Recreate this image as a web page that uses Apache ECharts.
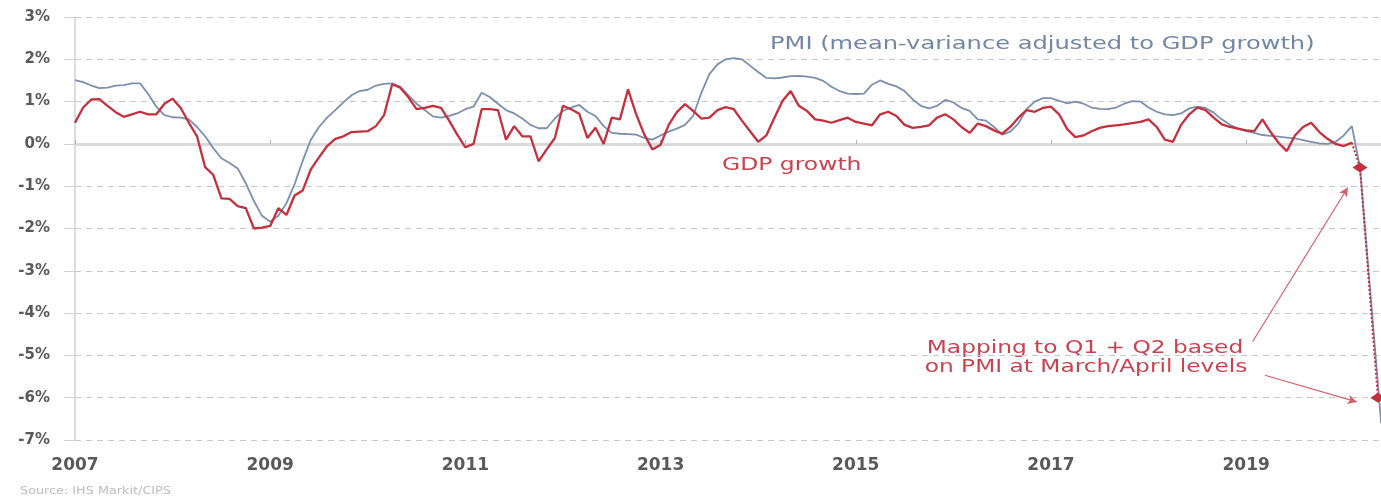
<!DOCTYPE html>
<html><head><meta charset="utf-8">
<script src="https://cdn.jsdelivr.net/npm/echarts/dist/echarts.min.js"></script>
<style>html,body{margin:0;padding:0;background:#fff}#c{width:1381px;height:499px}</style>
</head><body><div id="c"></div>
<script>
// months counted from Jan 2007
const startYear = 2007;
const yearTicks = ['2007','2009','2011','2013','2015','2017','2019'];
// GDP growth (3m/3m %), monthly from Jan 2007
const gdpGrowth = [
 0.50,0.86,1.05,1.06,0.90,0.75,0.64,0.70,0.76,0.70,0.70,0.95,
 1.07,0.85,0.50,0.18,-0.55,-0.73,-1.29,-1.30,-1.47,-1.52,-2.00,-1.98,
 -1.94,-1.52,-1.68,-1.22,-1.10,-0.60,-0.32,-0.05,0.12,0.18,0.28,0.29,
 0.30,0.42,0.68,1.41,1.33,1.10,0.82,0.85,0.90,0.85,0.55,0.22,
 -0.08,0.00,0.82,0.82,0.80,0.10,0.42,0.18,0.18,-0.41,-0.13,0.14,
 0.90,0.82,0.71,0.14,0.38,0.00,0.62,0.58,1.29,0.70,0.22,-0.13,
 -0.02,0.45,0.75,0.94,0.78,0.60,0.62,0.80,0.87,0.82,0.55,0.30,
 0.05,0.20,0.62,1.02,1.25,0.90,0.78,0.58,0.55,0.50,0.56,0.62,
 0.52,0.48,0.44,0.70,0.76,0.66,0.45,0.38,0.40,0.44,0.62,0.70,
 0.58,0.40,0.26,0.48,0.42,0.32,0.24,0.40,0.62,0.80,0.76,0.85,
 0.88,0.70,0.35,0.16,0.20,0.30,0.38,0.42,0.44,0.46,0.49,0.52,
 0.58,0.40,0.10,0.05,0.45,0.70,0.86,0.80,0.62,0.46,0.40,0.36,
 0.32,0.30,0.58,0.28,0.02,-0.17,0.20,0.40,0.50,0.28,0.12,0.00,
 -0.05,0.03
];
// PMI (mean-variance adjusted to GDP growth), monthly from Jan 2007 to Mar 2020
const pmiAdjusted = [
 1.51,1.46,1.38,1.32,1.33,1.38,1.39,1.43,1.43,1.18,0.88,0.68,
 0.63,0.62,0.58,0.40,0.18,-0.10,-0.34,-0.45,-0.58,-0.93,-1.35,-1.70,
 -1.84,-1.70,-1.40,-0.95,-0.40,0.10,0.40,0.62,0.80,0.98,1.15,1.25,
 1.28,1.38,1.42,1.43,1.35,1.15,0.95,0.80,0.65,0.62,0.66,0.72,
 0.82,0.88,1.21,1.11,0.95,0.80,0.72,0.60,0.45,0.37,0.37,0.60,
 0.78,0.86,0.92,0.76,0.66,0.42,0.26,0.24,0.23,0.22,0.14,0.10,
 0.20,0.29,0.36,0.45,0.66,1.20,1.65,1.88,2.00,2.03,2.00,1.85,
 1.70,1.56,1.55,1.57,1.60,1.61,1.59,1.56,1.49,1.35,1.25,1.19,
 1.18,1.19,1.40,1.50,1.42,1.36,1.25,1.05,0.90,0.84,0.90,1.04,
 0.98,0.85,0.78,0.58,0.55,0.40,0.22,0.29,0.48,0.82,1.00,1.08,
 1.08,1.02,0.96,1.00,0.95,0.86,0.83,0.82,0.86,0.95,1.01,1.00,
 0.86,0.76,0.70,0.68,0.72,0.84,0.88,0.85,0.74,0.58,0.45,0.36,
 0.30,0.26,0.21,0.19,0.17,0.15,0.13,0.09,0.05,0.01,0.00,0.05,
 0.20,0.42,-0.56
];
// PMI line running off the right edge (month index, value)
const pmiEnd = [160.6, -6.6];
// Mapping to Q1 + Q2 (month index, value)
const mappingPoints = [[157, 0.03], [158, -0.56], [160.2, -6.0]];

const RED = '#c5303e', BLUE = '#7c8fab', GRAY = '#595959';
const FONT = '"DejaVu Sans", Verdana, sans-serif';
const xMax = 160.58;

const chart = echarts.init(document.getElementById('c'), null, {renderer: 'canvas'});
chart.setOption({
  animation: false,
  backgroundColor: '#fff',
  grid: {left: 75, right: 0, top: 17, bottom: 59, containLabel: false},
  xAxis: [{
    type: 'value', min: 0, max: xMax, interval: 24,
    axisLine: {show: false, onZero: false}, axisTick: {show: false}, splitLine: {show: false},
    axisLabel: {
      showMaxLabel: false, margin: 17,
      formatter: v => yearTicks[Math.round(v / 24)] || '',
      color: GRAY, fontWeight: 'bold', fontSize: 17, fontFamily: FONT
    }
  }, {
    type: 'value', min: 0, max: xMax, interval: 24, position: 'top',
    axisLine: {show: true, onZero: true, lineStyle: {color: '#dadada', width: 3}},
    axisTick: {show: true, length: 4, lineStyle: {color: '#b0b0b0'}},
    axisLabel: {show: false}, splitLine: {show: false}
  }],
  yAxis: [{
    type: 'value', min: -7, max: 3, interval: 1, position: 'left',
    axisLine: {show: true, onZero: false, lineStyle: {color: '#d2d2d2', width: 1.5}},
    axisTick: {show: true, length: 11, lineStyle: {color: '#d2d2d2'}},
    splitLine: {show: true, lineStyle: {color: '#c9c9c9', width: 1, type: [6, 5]}},
    axisLabel: {show: false}
  }, {
    type: 'value', min: -7, max: 3, interval: 1, position: 'left', offset: 11,
    axisLine: {show: false, onZero: false}, axisTick: {show: false}, splitLine: {show: false},
    axisLabel: {
      formatter: v => v + '%', margin: 14,
      color: GRAY, fontWeight: 'bold', fontSize: 15, fontFamily: FONT
    }
  }],
  series: [{
    name: 'PMI', type: 'line', xAxisIndex: 0, yAxisIndex: 0, symbol: 'none', z: 2,
    data: pmiAdjusted.map((v, i) => [i, v]).concat([pmiEnd]),
    lineStyle: {color: BLUE, width: 1.8}
  }, {
    name: 'GDP growth', type: 'line', xAxisIndex: 0, yAxisIndex: 0, symbol: 'none', z: 3,
    data: gdpGrowth.map((v, i) => [i, v]),
    lineStyle: {color: RED, width: 2.3}
  }, {
    name: 'Mapping', type: 'line', xAxisIndex: 0, yAxisIndex: 0, z: 4,
    data: mappingPoints.map((p, i) => ({value: p, symbol: i === 0 ? 'none' : 'diamond', symbolSize: [15, 10]})),
    lineStyle: {color: RED, width: 2, type: 'dotted'},
    itemStyle: {color: RED},
    markLine: {
      silent: true, symbol: ['none', 'arrow'], symbolSize: [7, 9],
      label: {show: false},
      lineStyle: {color: '#d4606c', width: 1.2, type: 'solid'},
      data: [
        [{coord: [144.8, -4.67]}, {coord: [156.5, -1.03]}],
        [{coord: [146.3, -5.47]}, {coord: [157.6, -6.10]}]
      ]
    }
  }],
  graphic: [
    {type: 'text', x: 770, y: 45, scaleX: 1.42, silent: true,
     style: {text: 'PMI (mean-variance adjusted to GDP growth)', font: '17px ' + FONT, fill: '#7386a3', textAlign: 'left', textVerticalAlign: 'middle'}},
    {type: 'text', x: 722, y: 166, scaleX: 1.38, silent: true,
     style: {text: 'GDP growth', font: '17px ' + FONT, fill: '#c9424f', textAlign: 'left', textVerticalAlign: 'middle'}},
    {type: 'text', x: 1085, y: 349, scaleX: 1.37, silent: true,
     style: {text: 'Mapping to Q1 + Q2 based', font: '17px ' + FONT, fill: '#c9424f', textAlign: 'center', textVerticalAlign: 'middle'}},
    {type: 'text', x: 1086, y: 368, scaleX: 1.37, silent: true,
     style: {text: 'on PMI at March/April levels', font: '17px ' + FONT, fill: '#c9424f', textAlign: 'center', textVerticalAlign: 'middle'}},
    {type: 'text', x: 20, y: 491, scaleX: 1.28, silent: true,
     style: {text: 'Source: IHS Markit/CIPS', font: '10px ' + FONT, fill: '#bdbdbd', textAlign: 'left', textVerticalAlign: 'middle'}}
  ]
});
</script></body></html>
